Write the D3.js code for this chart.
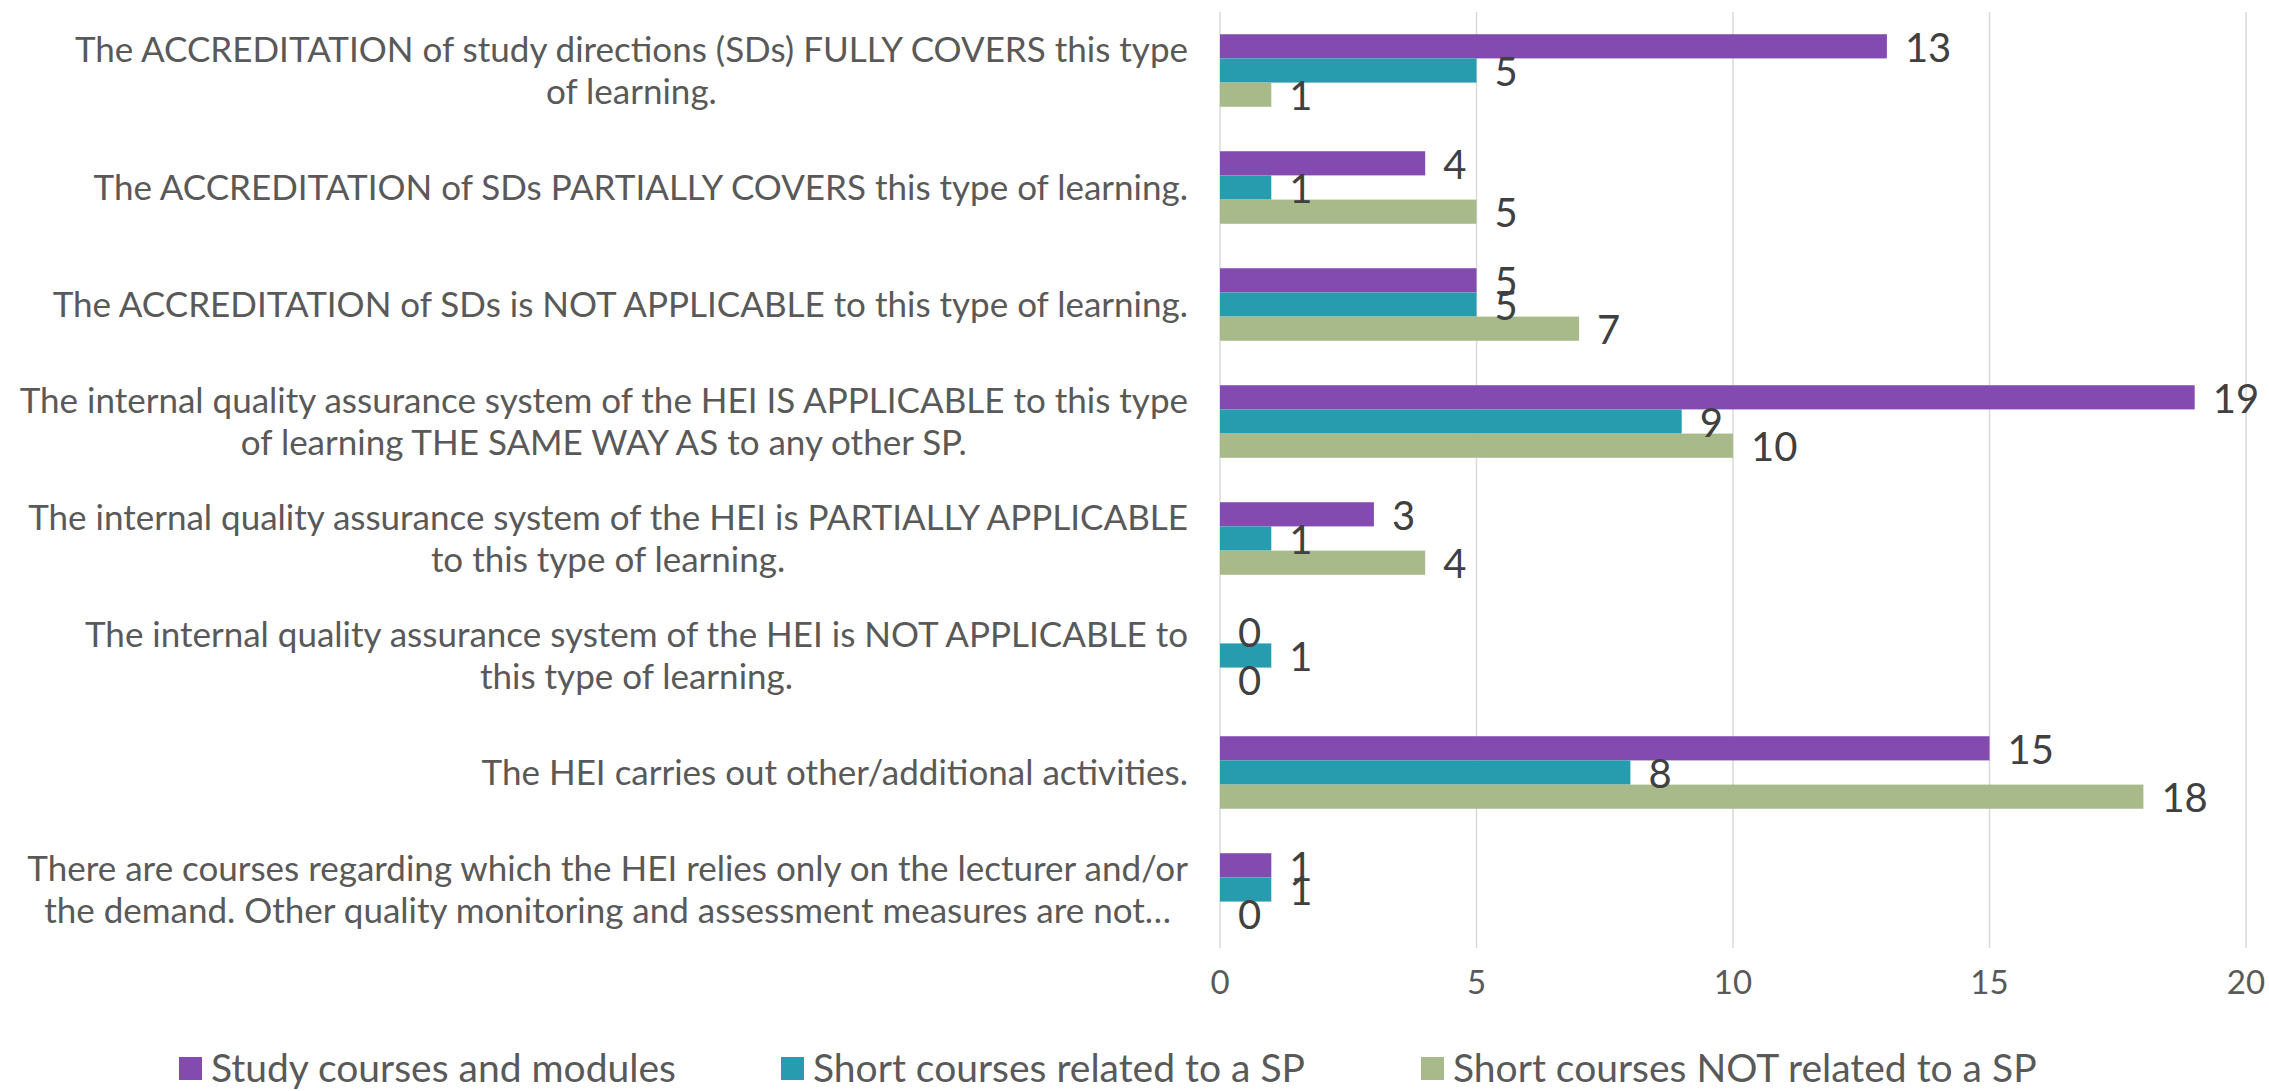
<!DOCTYPE html>
<meta charset="utf-8">
<script src="https://d3js.org/d3.v7.min.js"></script>
<style>
  body { margin: 0; background: #fff; }
  text { font-family: Lato, "Open Sans", sans-serif; }
</style>
<div id="chart"></div>
<script>
// categories (line breaks as in the original chart)
var categories = [
  "The ACCREDITATION of study directions (SDs) FULLY COVERS this type\nof learning.",
  "The ACCREDITATION of SDs PARTIALLY COVERS this type of learning.",
  "The ACCREDITATION of SDs is NOT APPLICABLE to this type of learning.",
  "The internal quality assurance system of the HEI IS APPLICABLE to this type\nof learning THE SAME WAY AS to any other SP.",
  "The internal quality assurance system of the HEI is PARTIALLY APPLICABLE\nto this type of learning.",
  "The internal quality assurance system of the HEI is NOT APPLICABLE to\nthis type of learning.",
  "The HEI carries out other/additional activities.",
  "There are courses regarding which the HEI relies only on the lecturer and/or\nthe demand. Other quality monitoring and assessment measures are not\u2026"
];
var seriesNames = ["Study courses and modules", "Short courses related to a SP", "Short courses NOT related to a SP"];
var studyCourses = [13, 4, 5, 19, 3, 0, 15, 1];
var shortRelated = [5, 1, 5, 9, 1, 1, 8, 1];
var shortNotRelated = [1, 5, 7, 10, 4, 0, 18, 0];
var xTicks = [0, 5, 10, 15, 20];
var colors = ["#834BB0", "#279CAF", "#A8B98A"];

var width = 2269, height = 1091;
var plotLeft = 1220, plotRight = 2246, plotTop = 12, plotBottom = 948;

var svg = d3.select("#chart").append("svg")
  .attr("width", width)
  .attr("height", height);

var x = d3.scaleLinear().domain([0, 20]).range([plotLeft, plotRight]);
var y = d3.scaleBand().domain(d3.range(categories.length))
  .range([plotTop, plotBottom]).paddingInner(0.38).paddingOuter(0.19);
var ySub = d3.scaleBand().domain(d3.range(3)).range([0, y.bandwidth()]);

// gridlines
svg.append("g").selectAll("line").data(xTicks).enter().append("line")
  .attr("x1", d => x(d)).attr("x2", d => x(d))
  .attr("y1", plotTop).attr("y2", plotBottom)
  .attr("stroke", "#d9d9d9").attr("stroke-width", 1.5);

// x axis tick labels
svg.append("g").selectAll("text").data(xTicks).enter().append("text")
  .attr("x", d => x(d)).attr("y", 994)
  .attr("text-anchor", "middle")
  .attr("font-size", "33px").attr("fill", "#595959")
  .text(d => d);

var series = [studyCourses, shortRelated, shortNotRelated];
var rows = [];
series.forEach(function(vals, s) {
  vals.forEach(function(v, i) { rows.push({s: s, i: i, v: v}); });
});

var bars = svg.append("g");
bars.selectAll("rect").data(rows).enter().append("rect")
  .attr("x", x(0))
  .attr("y", d => y(d.i) + ySub(d.s))
  .attr("width", d => x(d.v) - x(0))
  .attr("height", ySub.bandwidth())
  .attr("fill", d => colors[d.s]);

bars.selectAll("text").data(rows).enter().append("text")
  .attr("x", d => x(d.v) + 18)
  .attr("y", d => y(d.i) + ySub(d.s) + ySub.bandwidth() / 2)
  .attr("dy", "0.38em")
  .attr("font-size", "40px").attr("fill", "#404040")
  .text(d => d.v);

// category labels
var labelRight = 1188, lineH = 42;
categories.forEach(function(c, i) {
  var lines = c.split("\n");
  var cy = y(i) + y.bandwidth() / 2;
  var t = svg.append("text").attr("font-size", "35px").attr("fill", "#595959")
    .attr("text-anchor", "middle");
  lines.forEach(function(l, k) {
    t.append("tspan").attr("x", 0)
      .attr("y", cy + (k - (lines.length - 1) / 2) * lineH)
      .attr("dy", "0.35em").text(l);
  });
  var w = t.node().getBBox().width;
  t.attr("transform", "translate(" + (labelRight - w / 2) + ",0)");
});

// legend
var legendX = [179, 781, 1421];
var leg = svg.append("g").selectAll("g").data(seriesNames).enter().append("g")
  .attr("transform", (d, i) => "translate(" + legendX[i] + ",1057)");
leg.append("rect").attr("width", 23).attr("height", 23).attr("fill", (d, i) => colors[i]);
leg.append("text").attr("x", 32).attr("y", 11).attr("dy", "0.36em")
  .attr("font-size", "39px").attr("fill", "#595959").text(d => d);
</script>
